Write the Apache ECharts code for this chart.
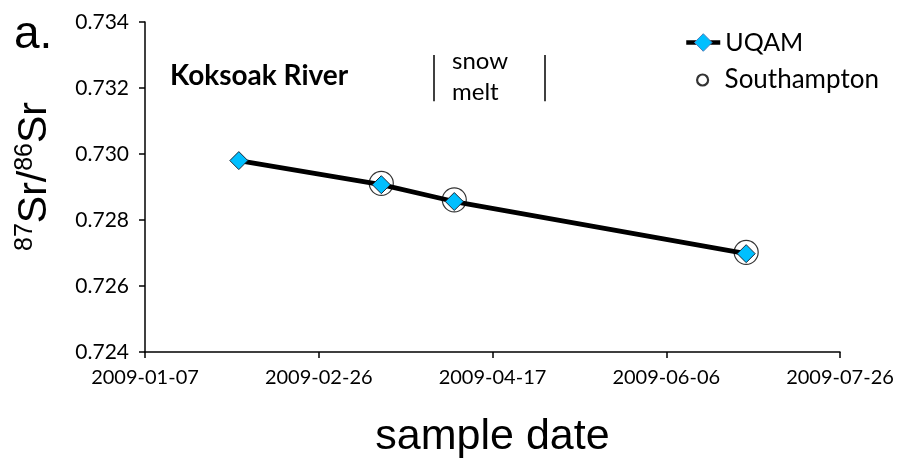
<!DOCTYPE html>
<html>
<head>
<meta charset="utf-8">
<script src="https://cdn.jsdelivr.net/npm/echarts@6/dist/echarts.min.js"></script>
<style>
  html, body { margin: 0; padding: 0; background: #fff; }
  #chart { width: 909px; height: 458px; }
</style>
</head>
<body>
<div id="chart"></div>
<script>
// Koksoak River 87Sr/86Sr through the 2009 sampling season
const uqamDates = ['2009-02-03', '2009-03-16', '2009-04-06', '2009-06-29'];
const uqamRatio = [0.72980, 0.72907, 0.72856, 0.72698];
const sotonDates = ['2009-03-16', '2009-04-06', '2009-06-29'];
const sotonRatio = [0.72911, 0.72861, 0.72702];
const snowMeltBounds = ['2009-03-31', '2009-05-02'];
const xRange = ['2009-01-07', '2009-07-26'];
const yTicks = [0.724, 0.726, 0.728, 0.730, 0.732, 0.734];

const DAY = 86400000;
const ts = s => { const [y, m, d] = s.split('-').map(Number); return Date.UTC(y, m - 1, d); };
const pad = n => String(n).padStart(2, '0');
const fmtDate = v => { const d = new Date(v); return d.getUTCFullYear() + '-' + pad(d.getUTCMonth() + 1) + '-' + pad(d.getUTCDate()); };

const uqamData = uqamDates.map((d, i) => [ts(d), uqamRatio[i]]);
const sotonData = sotonDates.map((d, i) => [ts(d), sotonRatio[i]]);
const meltLines = snowMeltBounds.map(d => [
  { coord: [ts(d), 0.7330] },
  { coord: [ts(d), 0.7316] }
]);

const chart = echarts.init(document.getElementById('chart'), null, { renderer: 'canvas' });
const labelFont = 'Lato, "Open Sans", sans-serif';
const arial = '"Liberation Sans", Arial, sans-serif';

chart.setOption({
  animation: false,
  grid: { left: 145, right: 69, top: 22, bottom: 106, containLabel: false, outerBoundsMode: 'none' },
  xAxis: {
    type: 'value',
    min: ts(xRange[0]),
    max: ts(xRange[1]),
    interval: 50 * DAY,
    splitLine: { show: false },
    axisLine: { show: true, onZero: false, lineStyle: { color: '#000', width: 1.5 } },
    axisTick: { show: true, inside: false, length: 6, lineStyle: { color: '#000', width: 1.5 } },
    axisLabel: { color: '#000', fontFamily: labelFont, fontSize: 20, margin: 16, formatter: v => fmtDate(v) },
    name: 'sample date',
    nameLocation: 'middle',
    nameGap: 64,
    nameTextStyle: { color: '#000', fontFamily: arial, fontSize: 43 }
  },
  yAxis: {
    type: 'value',
    min: yTicks[0],
    max: yTicks[yTicks.length - 1],
    interval: 0.002,
    splitLine: { show: false },
    axisLine: { show: true, onZero: false, lineStyle: { color: '#000', width: 1.5 } },
    axisTick: { show: true, inside: false, length: 6, lineStyle: { color: '#000', width: 1.5 } },
    axisLabel: { color: '#000', fontFamily: labelFont, fontSize: 21, margin: 16, formatter: v => v.toFixed(3) },
    name: '{sup|87}{main|Sr/}{sup|86}{main|Sr}',
    nameLocation: 'middle',
    nameRotate: 90,
    nameGap: 88,
    nameTextStyle: {
      color: '#000',
      padding: [0, 0, 0, 21],
      rich: {
        main: { fontFamily: arial, fontSize: 41, color: '#000', lineHeight: 44 },
        sup: { fontFamily: arial, fontSize: 25, color: '#000', verticalAlign: 'top', lineHeight: 44, padding: [0, 0, 14, 0] }
      }
    }
  },
  legend: [
    {
      orient: 'vertical',
      left: 679,
      top: 25,
      itemWidth: 34,
      itemHeight: 22,
      lineStyle: { width: 4.5, color: '#000' },
      textStyle: { color: '#000', fontFamily: labelFont, fontSize: 25 },
      data: [{ name: 'UQAM', itemStyle: { borderColor: '#4a7ebb', borderWidth: 1 } }]
    },
    {
      orient: 'vertical',
      left: 691,
      top: 62,
      itemWidth: 34,
      itemHeight: 11,
      textStyle: { color: '#000', fontFamily: labelFont, fontSize: 26 },
      data: [{ name: 'Southampton', icon: 'circle', itemStyle: { color: '#fff', borderColor: '#000', borderWidth: 2.2 } }]
    }
  ],
  graphic: [
    { type: 'text', left: 14, top: 12, style: { text: 'a.', fontSize: 46, fontFamily: arial, fill: '#000' } },
    { type: 'text', left: 170, top: 62, style: { text: 'Koksoak River', fontSize: 28, fontWeight: 'bold', fontFamily: labelFont, fill: '#000' } },
    { type: 'text', left: 452, top: 46, style: { text: 'snow\nmelt', fontSize: 24, lineHeight: 31, fontFamily: labelFont, fill: '#000', align: 'left' } }
  ],
  series: [
    {
      name: 'UQAM',
      type: 'line',
      data: uqamData,
      symbol: 'diamond',
      symbolSize: 18,
      z: 3,
      lineStyle: { color: '#000', width: 4.8 },
      itemStyle: { color: '#00bfff', borderColor: '#1a2a3a', borderWidth: 1 },
      markLine: {
        silent: true,
        symbol: ['none', 'none'],
        label: { show: false },
        lineStyle: { color: '#000', width: 1.5, type: 'solid' },
        data: meltLines
      }
    },
    {
      name: 'Southampton',
      type: 'scatter',
      data: sotonData,
      symbol: 'circle',
      symbolSize: 24,
      z: 2,
      itemStyle: { color: 'rgba(255,255,255,0)', borderColor: '#000', borderWidth: 1.2 }
    }
  ]
});
</script>
</body>
</html>
